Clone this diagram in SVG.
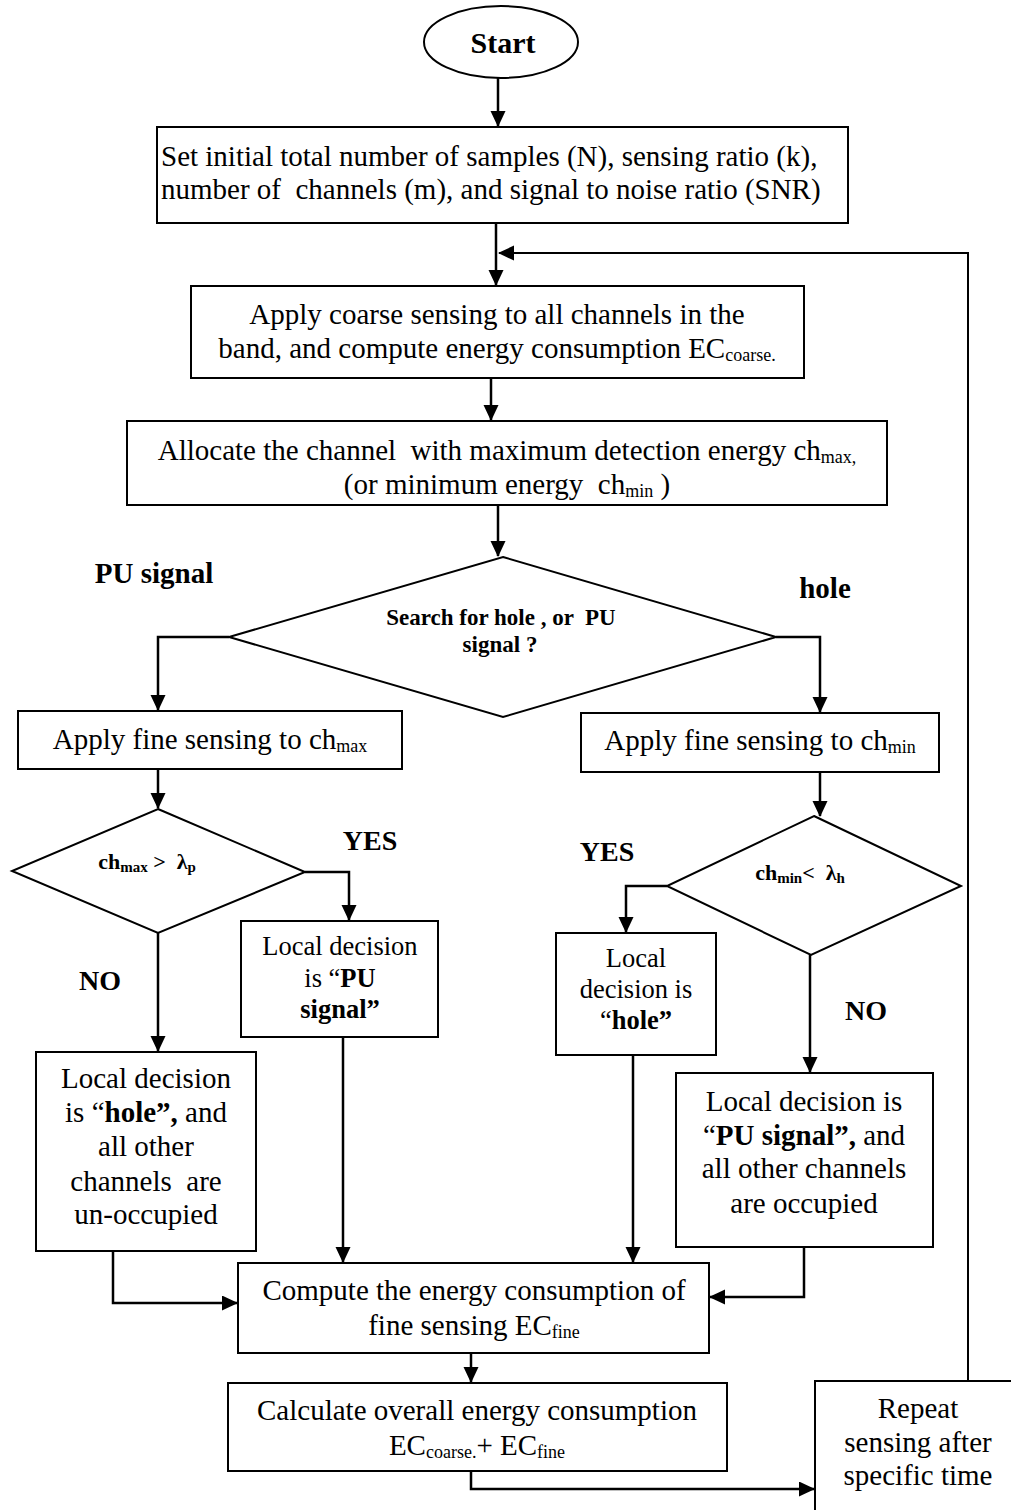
<svg xmlns="http://www.w3.org/2000/svg" width="1011" height="1510" viewBox="0 0 1011 1510">
<style>
.box{fill:#fff;stroke:#000;stroke-width:2}
.t{font-family:"Liberation Serif","Times New Roman",serif;font-size:29px;fill:#000;text-anchor:middle}
.s{font-size:26.5px}
.b{font-weight:bold}
.lbl{font-family:"Liberation Serif","Times New Roman",serif;font-weight:bold;font-size:28px;fill:#000;text-anchor:middle}
.dt{font-family:"Liberation Serif","Times New Roman",serif;font-weight:bold;font-size:22px;fill:#000;text-anchor:middle}
.con{fill:none;stroke:#000;stroke-width:2.5}
</style>
<defs>
<marker id="ah" markerUnits="userSpaceOnUse" markerWidth="18" markerHeight="18" refX="15" refY="7.5" orient="auto">
<path d="M0,0 L16,7.5 L0,15 z" fill="#000"/>
</marker>
<clipPath id="clipAlloc"><rect x="127" y="421" width="760" height="80"/></clipPath>
<clipPath id="clipPage"><rect x="0" y="0" width="1011" height="1510"/></clipPath>
</defs>

<g id="connectors">
<path class="con" d="M498,78 V126" marker-end="url(#ah)"/>
<path class="con" d="M496,223 V285" marker-end="url(#ah)"/>
<path class="con" style="stroke-width:2" d="M968,1381 V253 H499" marker-end="url(#ah)"/>
<path class="con" d="M491,378 V420" marker-end="url(#ah)"/>
<path class="con" d="M498,505 V556" marker-end="url(#ah)"/>
<path class="con" d="M229,637 H158 V710" marker-end="url(#ah)"/>
<path class="con" d="M776,637 H820 V712" marker-end="url(#ah)"/>
<path class="con" d="M158,769 V808" marker-end="url(#ah)"/>
<path class="con" d="M820,772 V816" marker-end="url(#ah)"/>
<path class="con" d="M305,872 H349 V920" marker-end="url(#ah)"/>
<path class="con" d="M158,933 V1051" marker-end="url(#ah)"/>
<path class="con" d="M667,886 H626 V932" marker-end="url(#ah)"/>
<path class="con" d="M810,955 V1072" marker-end="url(#ah)"/>
<path class="con" d="M343,1037 V1262" marker-end="url(#ah)"/>
<path class="con" d="M633,1055 V1262" marker-end="url(#ah)"/>
<path class="con" d="M113,1251 V1303 H237" marker-end="url(#ah)"/>
<path class="con" d="M804,1247 V1297 H710" marker-end="url(#ah)"/>
<path class="con" d="M471,1353 V1382" marker-end="url(#ah)"/>
<path class="con" d="M471,1471 V1489 H814" marker-end="url(#ah)"/>
</g>

<g id="start">
<ellipse class="box" cx="501" cy="42" rx="77" ry="36"/>
<text class="t b" x="503" y="53" style="font-size:30px">Start</text>
</g>

<g id="init">
<rect class="box" x="157" y="127" width="691" height="96"/>
<text class="t" x="161" y="166" style="text-anchor:start">Set initial total number of samples (N), sensing ratio (k),</text>
<text class="t" x="161" y="199" style="text-anchor:start" xml:space="preserve">number of  channels (m), and signal to noise ratio (SNR)</text>
</g>

<g id="coarse">
<rect class="box" x="191" y="286" width="613" height="92"/>
<text class="t" x="497" y="324">Apply coarse sensing to all channels in the</text>
<text class="t" x="497" y="358">band, and compute energy consumption EC<tspan font-size="18" dy="3">coarse.</tspan></text>
</g>

<g id="allocate">
<rect class="box" x="127" y="421" width="760" height="84"/>
<text class="t" x="507" y="460" xml:space="preserve">Allocate the channel  with maximum detection energy ch<tspan font-size="18" dy="3">max,</tspan></text>
<text class="t" x="507" y="494" clip-path="url(#clipAlloc)" xml:space="preserve">(or minimum energy  ch<tspan font-size="18" dy="3">min</tspan><tspan dy="-3"> )</tspan></text>
</g>

<g id="search">
<polygon class="box" points="503,557 776,637 503,717 229,637"/>
<text class="dt" x="501" y="625" style="font-size:23px" xml:space="preserve">Search for hole , or  PU</text>
<text class="dt" x="500" y="652" style="font-size:23px">signal ?</text>
</g>

<g id="label-pu">
<text class="lbl" x="154" y="583" style="font-size:29px">PU signal</text>
</g>
<g id="label-hole">
<text class="lbl" x="825" y="598" style="font-size:29px">hole</text>
</g>

<g id="fine-max">
<rect class="box" x="18" y="711" width="384" height="58"/>
<text class="t" x="210" y="749">Apply fine sensing to ch<tspan font-size="18" dy="3">max</tspan></text>
</g>

<g id="fine-min">
<rect class="box" x="581" y="713" width="358" height="59"/>
<text class="t" x="760" y="750">Apply fine sensing to ch<tspan font-size="18" dy="3">min</tspan></text>
</g>

<g id="dec-max">
<polygon class="box" points="158,809 305,872 158,933 12,871"/>
<text class="dt" x="147" y="869" xml:space="preserve">ch<tspan font-size="15" dy="3">max</tspan><tspan dy="-3"> &gt;  λ</tspan><tspan font-size="15" dy="3">p</tspan></text>
</g>

<g id="dec-min">
<polygon class="box" points="814,816 961,886 811,955 667,886"/>
<text class="dt" x="800" y="880" xml:space="preserve">ch<tspan font-size="15" dy="3">min</tspan><tspan dy="-3">&lt;  λ</tspan><tspan font-size="15" dy="3">h</tspan></text>
</g>

<g id="yes-left"><text class="lbl" x="370" y="850">YES</text></g>
<g id="no-left"><text class="lbl" x="100" y="990">NO</text></g>
<g id="yes-right"><text class="lbl" x="607" y="861">YES</text></g>
<g id="no-right"><text class="lbl" x="866" y="1020">NO</text></g>

<g id="local-pu">
<rect class="box" x="241" y="921" width="197" height="116"/>
<text class="t s" x="340" y="955">Local decision</text>
<text class="t s" x="340" y="987">is “<tspan class="b">PU</tspan></text>
<text class="t s b" x="340" y="1018">signal”</text>
</g>

<g id="local-hole-all">
<rect class="box" x="36" y="1052" width="220" height="199"/>
<text class="t" x="146" y="1088">Local decision</text>
<text class="t" x="146" y="1122">is “<tspan class="b">hole”,</tspan> and</text>
<text class="t" x="146" y="1156">all other</text>
<text class="t" x="146" y="1191" xml:space="preserve">channels  are</text>
<text class="t" x="146" y="1224">un-occupied</text>
</g>

<g id="local-hole">
<rect class="box" x="556" y="933" width="160" height="122"/>
<text class="t s" x="636" y="967">Local</text>
<text class="t s" x="636" y="998">decision is</text>
<text class="t s" x="636" y="1029">“<tspan class="b">hole”</tspan></text>
</g>

<g id="local-pu-all">
<rect class="box" x="676" y="1073" width="257" height="174"/>
<text class="t" x="804" y="1111">Local decision is</text>
<text class="t" x="804" y="1145">“<tspan class="b">PU signal”,</tspan> and</text>
<text class="t" x="804" y="1178">all other channels</text>
<text class="t" x="804" y="1213">are occupied</text>
</g>

<g id="compute">
<rect class="box" x="238" y="1263" width="471" height="90"/>
<text class="t" x="474" y="1300">Compute the energy consumption of</text>
<text class="t" x="474" y="1335">fine sensing EC<tspan font-size="18" dy="3">fine</tspan></text>
</g>

<g id="calculate">
<rect class="box" x="228" y="1383" width="499" height="88"/>
<text class="t" x="477" y="1420">Calculate overall energy consumption</text>
<text class="t" x="477" y="1455">EC<tspan font-size="18" dy="3">coarse.</tspan><tspan dy="-3">+ EC</tspan><tspan font-size="18" dy="3">fine</tspan></text>
</g>

<g id="repeat">
<rect class="box" x="815" y="1381" width="220" height="150" clip-path="url(#clipPage)"/>
<text class="t" x="918" y="1418">Repeat</text>
<text class="t" x="918" y="1452">sensing after</text>
<text class="t" x="918" y="1485">specific time</text>
</g>
</svg>
